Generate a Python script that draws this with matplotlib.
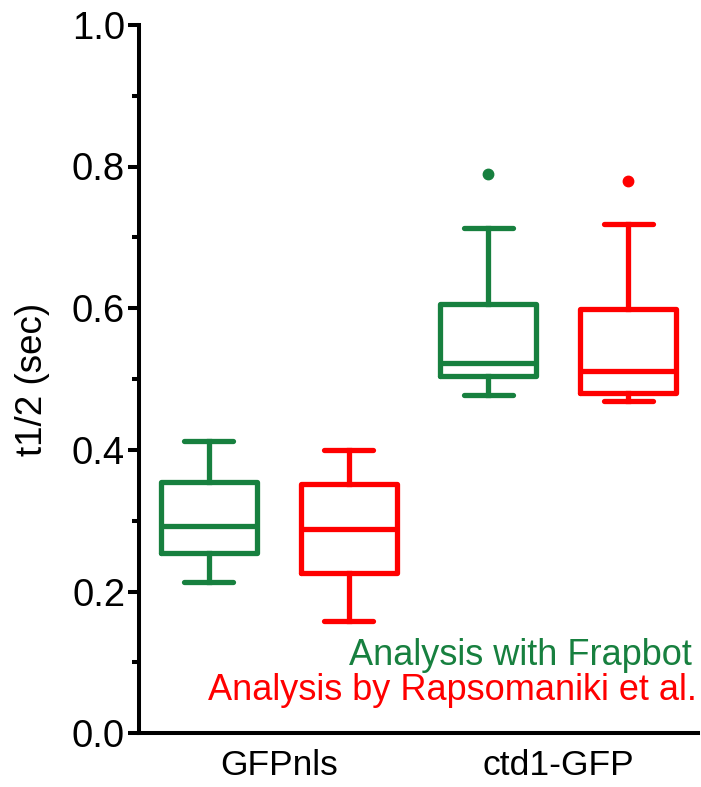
import matplotlib
matplotlib.use("Agg")
import matplotlib.pyplot as plt

plt.rcParams['font.family'] = ['Liberation Sans', 'DejaVu Sans']

groups = ["GFPnls", "ctd1-GFP"]
series = ["Analysis with Frapbot", "Analysis by Rapsomaniki et al."]
colors = ["#17803f", "#ff0000"]

# box stats per (group, series): whislo, q1, med, q3, whishi, fliers
frap_whislo = [0.213, 0.478]
frap_q1 = [0.254, 0.505]
frap_med = [0.293, 0.523]
frap_q3 = [0.355, 0.606]
frap_whishi = [0.412, 0.713]
frap_fliers = [[], [0.789]]

rap_whislo = [0.159, 0.469]
rap_q1 = [0.226, 0.480]
rap_med = [0.289, 0.511]
rap_q3 = [0.352, 0.599]
rap_whishi = [0.400, 0.719]
rap_fliers = [[], [0.779]]

fig = plt.figure(figsize=(7.01, 7.87), dpi=100)
ax = fig.add_axes([139/701, 1 - 733.3/787, (698-139)/701, (733.3-24.8)/787])

all_stats = [
    (frap_whislo, frap_q1, frap_med, frap_q3, frap_whishi, frap_fliers),
    (rap_whislo, rap_q1, rap_med, rap_q3, rap_whishi, rap_fliers),
]

lw = 3.8
for si, (wl, q1, md, q3, wh, fl) in enumerate(all_stats):
    stats = []
    for gi in range(len(groups)):
        stats.append(dict(whislo=wl[gi], q1=q1[gi], med=md[gi], q3=q3[gi],
                          whishi=wh[gi], fliers=fl[gi]))
    positions = [gi * 2 + si for gi in range(len(groups))]
    c = colors[si]
    ax.bxp(stats, positions=positions, widths=0.686, capwidths=0.35,
           showfliers=True,
           boxprops=dict(color=c, linewidth=lw, solid_joinstyle='round', solid_capstyle='round'),
           medianprops=dict(color=c, linewidth=lw, solid_capstyle='butt'),
           whiskerprops=dict(color=c, linewidth=lw),
           capprops=dict(color=c, linewidth=lw, solid_capstyle='round'),
           flierprops=dict(marker='o', markerfacecolor=c, markeredgecolor=c, markersize=7.5))

ax.set_xlim(-0.5, 3.5)
ax.set_ylim(0, 1.0)
ax.set_yticks([0.0, 0.2, 0.4, 0.6, 0.8, 1.0])
ax.set_yticklabels(["0.0", "0.2", "0.4", "0.6", "0.8", "1.0"])
ax.set_yticks([0.1, 0.3, 0.5, 0.7, 0.9], minor=True)
ax.set_xticks([0.5, 2.5])
ax.set_xticklabels(groups)

for s in ['top', 'right']:
    ax.spines[s].set_visible(False)
for s in ['left', 'bottom']:
    ax.spines[s].set_linewidth(2.9)
ax.spines['left'].set_capstyle('projecting')

ax.tick_params(axis='y', which='major', length=8, width=2.9, labelsize=27.5, pad=2)
ax.tick_params(axis='y', which='minor', length=5, width=2.9)
ax.tick_params(axis='x', which='major', length=0, labelsize=25.5, pad=11)

ax.set_ylabel("t1/2 (sec)", fontsize=26.5)
ax.yaxis.set_label_coords(-0.19, 0.5)
ax.yaxis.label.set_va('center')

ax.text(0.989, 0.0964, series[0], color=colors[0], fontsize=26,
        ha='right', va='baseline', transform=ax.transAxes)
ax.text(0.998, 0.047, series[1], color=colors[1], fontsize=26,
        ha='right', va='baseline', transform=ax.transAxes)

fig.savefig("out.png", dpi=100)
